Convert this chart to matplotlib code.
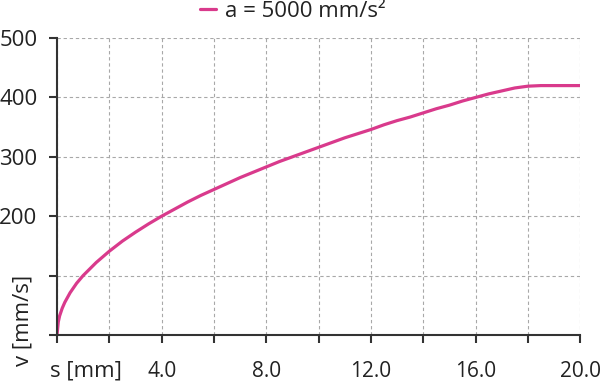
import matplotlib.pyplot as plt
from matplotlib.ticker import MultipleLocator, FuncFormatter

plt.rcParams["font.family"] = ["Open Sans", "DejaVu Sans"]

# curve values
s_mm = [0, 0.05, 0.1, 0.2, 0.3, 0.5, 0.75, 1, 1.5, 2, 2.5, 3, 3.5, 4, 4.5,
        5, 5.5, 6, 6.5, 7, 7.5, 8, 8.5, 9, 9.5, 10, 10.5, 11, 11.5, 12,
        12.5, 13, 13.5, 14, 14.5, 15, 15.5, 16, 16.5, 17, 17.5, 18, 18.5,
        19, 20]
v_mms = [0, 22, 32, 45, 55, 71, 87, 100, 122, 141, 158, 173, 187, 200, 212,
         224, 235, 245, 255, 265, 274, 283, 292, 300, 308, 316, 324, 332,
         339, 346, 354, 361, 367, 374, 381, 387, 394, 400, 406, 411, 416,
         419, 420, 420, 420]
series_label = "a = 5000 mm/s²"
x_labelled = [4, 8, 12, 16, 20]
y_labelled = [200, 300, 400, 500]

fig = plt.figure(figsize=(6.0, 3.81), dpi=100)
ax = fig.add_axes([0.095, 0.121, 0.872, 0.779])

ax.plot(s_mm, v_mms, color="#d93a8c", linewidth=2.3, label=series_label,
        solid_capstyle="round", solid_joinstyle="round")

ax.set_xlim(0, 20)
ax.set_ylim(0, 500)
ax.xaxis.set_major_locator(MultipleLocator(2))
ax.yaxis.set_major_locator(MultipleLocator(100))
ax.xaxis.set_major_formatter(
    FuncFormatter(lambda x, p: f"{x:.1f}" if round(x) in x_labelled else ""))
ax.yaxis.set_major_formatter(
    FuncFormatter(lambda y, p: f"{y:.0f}" if round(y) in y_labelled else ""))

ax.grid(True, linestyle=(0, (3, 2.5)), linewidth=0.8, color="#a8a8a8")
ax.set_axisbelow(True)
for side in ["top", "right"]:
    ax.spines[side].set_visible(False)
for side in ["left", "bottom"]:
    ax.spines[side].set_color("#333333")
    ax.spines[side].set_linewidth(1.5)
ax.tick_params(direction="out", length=6, width=1.5, color="#333333",
               labelsize=16, labelcolor="#222222")
ax.tick_params(axis="y", pad=8)
ax.tick_params(axis="x", pad=13, labelsize=15)

fig.text(0.083, 0.0105, "s [mm]", fontsize=16, color="#222222",
         ha="left", va="baseline")
fig.text(0.038, 0.16, "v [mm/s]", fontsize=16, color="#222222",
         ha="center", va="center", rotation=90)

fig.legend(loc="center", bbox_to_anchor=(0.488, 0.971), frameon=False,
           fontsize=16, handlelength=0.7, handletextpad=0.4,
           labelcolor="#222222", borderaxespad=0, borderpad=0)

fig.savefig("out.png", dpi=100)
